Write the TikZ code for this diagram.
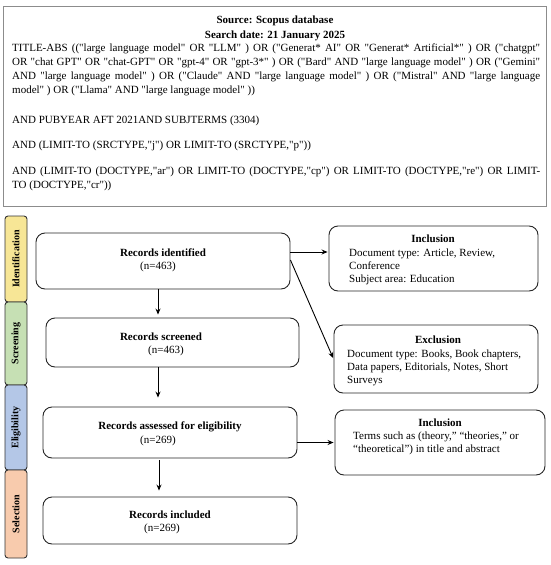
\documentclass[tikz,border=0pt]{standalone}
\usepackage{fontspec}
\setmainfont{Liberation Serif}[Ligatures=TeXOff]
\usetikzlibrary{arrows.meta}
\definecolor{cident}{RGB}{247,230,150}
\definecolor{cscreen}{RGB}{198,224,180}
\definecolor{celig}{RGB}{180,199,231}
\definecolor{csel}{RGB}{248,203,173}
\begin{document}
\begin{tikzpicture}[x=1pt,y=-1pt,
  flow/.style={draw=black!85, line width=0.9pt, rounded corners=9pt, inner sep=0pt},
  arr/.style={-{Stealth[length=6pt,width=5pt]}, line width=0.9pt, shorten >=1pt},
  bar/.style={draw=black!80, line width=0.9pt, rounded corners=3pt, inner sep=0pt, minimum width=22pt},
  barlabel/.style={rotate=90, font=\fontsize{10}{12}\selectfont\bfseries},
  query/.style={anchor=north west, inner sep=0pt, text width=528pt, align=justify, font=\fontsize{11}{14}\selectfont},
  ttl/.style={font=\fontsize{11}{13}\selectfont\bfseries},
  num/.style={font=\fontsize{11}{13}\selectfont},
  body/.style={anchor=north west, inner sep=0pt, align=left, font=\fontsize{11}{13}\selectfont}]
\useasboundingbox (0,0) rectangle (550,565);
% top box
\node[draw=black!45, line width=0.8pt, minimum width=543pt, minimum height=200pt, inner sep=0pt] (src) at (275,106) {};
\node[align=center, inner sep=0pt, font=\fontsize{11}{14}\selectfont\bfseries] (srct) at (275,28) {Source: Scopus database\\[1pt]Search date: 21 January 2025};
\node[query] (q1) at (12,44) {TITLE-ABS (("large language model" OR "LLM" ) OR ("Generat* AI" OR "Generat* Artificial*" ) OR ("chatgpt"\linebreak OR "chat GPT" OR "chat-GPT" OR "gpt-4" OR "gpt-3*" ) OR ("Bard" AND "large language model" ) OR ("Gemini"\linebreak AND "large language model" ) OR ("Claude" AND "large language model" ) OR ("Mistral" AND "large language\linebreak model" ) OR ("Llama" AND "large language model" ))};
\node[query] (q2) at (12,116) {AND PUBYEAR AFT 2021AND SUBJTERMS (3304)};
\node[query] (q3) at (12,141) {AND (LIMIT-TO (SRCTYPE,"j") OR LIMIT-TO (SRCTYPE,"p"))};
\node[query] (q4) at (12,167) {AND (LIMIT-TO (DOCTYPE,"ar") OR LIMIT-TO (DOCTYPE,"cp") OR LIMIT-TO (DOCTYPE,"re") OR LIMIT-\linebreak TO (DOCTYPE,"cr"))};
% side bars
\node[bar, fill=cident, minimum height=86pt] (bi) at (16,259) {};
\node[barlabel] at (bi) {Identification};
\node[bar, fill=cscreen, minimum height=83pt] (bs) at (16,343.5) {};
\node[barlabel] at (bs) {Screening};
\node[bar, fill=celig, minimum height=85pt] (be) at (16,427.5) {};
\node[barlabel] at (be) {Eligibility};
\node[bar, fill=csel, minimum height=88pt] (bl) at (16,514) {};
\node[barlabel] at (bl) {Selection};
% flow boxes
\node[flow, minimum width=254pt, minimum height=56pt] (ident) at (163,261) {};
\node[ttl] at (163,253) {Records identified};
\node[num] at (158,267) {(n=463)};
\node[flow, minimum width=253pt, minimum height=49pt] (screen) at (172.5,342.5) {};
\node[ttl] at (161,337) {Records screened};
\node[num] at (166,351) {(n=463)};
\node[flow, minimum width=254pt, minimum height=51pt] (assess) at (170,432.5) {};
\node[ttl] at (170,427) {Records assessed for eligibility};
\node[num] at (158,441) {(n=269)};
\node[flow, minimum width=254pt, minimum height=47pt] (incl) at (170,520.5) {};
\node[ttl] at (170,515) {Records included};
\node[num] at (162,529) {(n=269)};
% right boxes
\node[flow, minimum width=209pt, minimum height=65pt] (inc1) at (433.5,258.5) {};
\node[ttl] at (433,239) {Inclusion};
\node[body] at (349,248.5) {Document type: Article, Review,\\Conference\\Subject area: Education};
\node[flow, minimum width=204pt, minimum height=68pt] (excl) at (436,359) {};
\node[ttl] at (438,340) {Exclusion};
\node[body] at (347,350) {Document type: Books, Book chapters,\\Data papers, Editorials, Notes, Short\\Surveys};
\node[flow, minimum width=210pt, minimum height=65pt] (inc2) at (440,442.5) {};
\node[ttl] at (440,423) {Inclusion};
\node[body] at (353,432) {Terms such as (theory,” “theories,” or\\“theoretical”) in title and abstract};
% arrows
\coordinate (ax) at (158,0);
\coordinate (bx) at (159,0);
\draw[arr] (ident.south -| ax) -- ([yshift=2pt]screen.north -| ax);
\draw[arr] (screen.south -| ax) -- ([yshift=8pt]assess.north -| ax);
\draw[arr] ([yshift=-2pt]assess.south -| bx) -- ([yshift=5pt]incl.north -| bx);
\draw[arr] ([yshift=9pt]ident.east) coordinate (p) -- (inc1.west |- p);
\draw[arr] ([yshift=1pt]ident.east) -- (excl.west);
\draw[arr] (inc2.west -| assess.east) -- (inc2.west);
\end{tikzpicture}
\end{document}
